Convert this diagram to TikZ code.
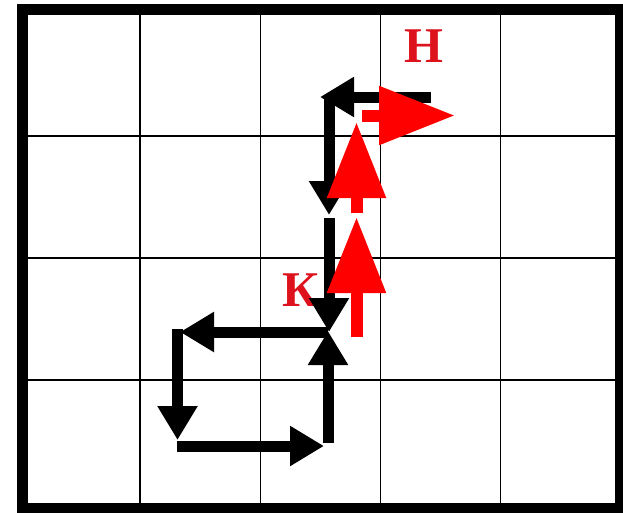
\documentclass[tikz,border=0pt]{standalone}
\usepackage{fontspec}
\setmainfont{Liberation Serif}
\usetikzlibrary{arrows.meta}
\definecolor{labelred}{RGB}{222,18,28}
\definecolor{pathred}{RGB}{255,0,0}
\tikzset{
  gridline/.style={line width=1.6pt, black},
  frame/.style={line width=11.5pt, black},
  blackmove/.style={line width=11pt, black, -{Triangle[length=34pt,width=38pt]}},
  redmove/.style={line width=12pt, pathred, -{Triangle[length=76pt,width=56pt]}},
  letter/.style={text=labelred, font=\fontsize{50}{50}\selectfont\bfseries, inner sep=0pt}
}
\begin{document}
\begin{tikzpicture}[x=1pt,y=-1pt]
  \useasboundingbox (0,0) rectangle (623,512);
  \fill[white] (0,0) rectangle (623,512);

  % grid
  \foreach \gx in {140,260.5,380.5,500.5}
    \draw[gridline] (\gx,9.5) -- (\gx,509);
  \foreach \gy in {136,258,380}
    \draw[gridline] (22.5,\gy) -- (621,\gy);
  \draw[frame] (22.5,9.5) rectangle (621,509);

  % letters
  \node[letter] (H) at (423.5,46) {Н};
  \node[letter] (K) at (301,290.5) {К};

  % black route points
  \coordinate (b1) at (431,97);
  \coordinate (b2) at (320,97);
  \coordinate (b3) at (329,97);
  \coordinate (b4) at (329,215);
  \coordinate (b5) at (329,218);
  \coordinate (b6) at (329,332);
  \coordinate (b7) at (328,443);
  \coordinate (b8) at (328,331);
  \coordinate (b9) at (328,332);
  \coordinate (b10) at (180,332);
  \coordinate (b11) at (177.5,329);
  \coordinate (b12) at (177.5,440);
  \coordinate (b13) at (177,446);
  \coordinate (b14) at (324,446);

  \draw[blackmove] (b1) -- (b2);
  \draw[blackmove] (b3) -- (b4);
  \draw[blackmove] (b5) -- (b6);
  \draw[blackmove] (b7) -- (b8);
  \draw[blackmove] (b9) -- (b10);
  \draw[blackmove] (b11) -- (b12);
  \draw[blackmove] (b13) -- (b14);

  % red route points
  \coordinate (r1) at (356.5,337);
  \coordinate (r2) at (356.5,217);
  \coordinate (r3) at (356.5,213);
  \coordinate (r4) at (356.5,122);
  \coordinate (r5) at (362,115.5);
  \coordinate (r6) at (455,115.5);

  \draw[redmove] (r1) -- (r2);
  \draw[redmove] (r3) -- (r4);
  \draw[redmove] (r5) -- (r6);
\end{tikzpicture}
\end{document}
